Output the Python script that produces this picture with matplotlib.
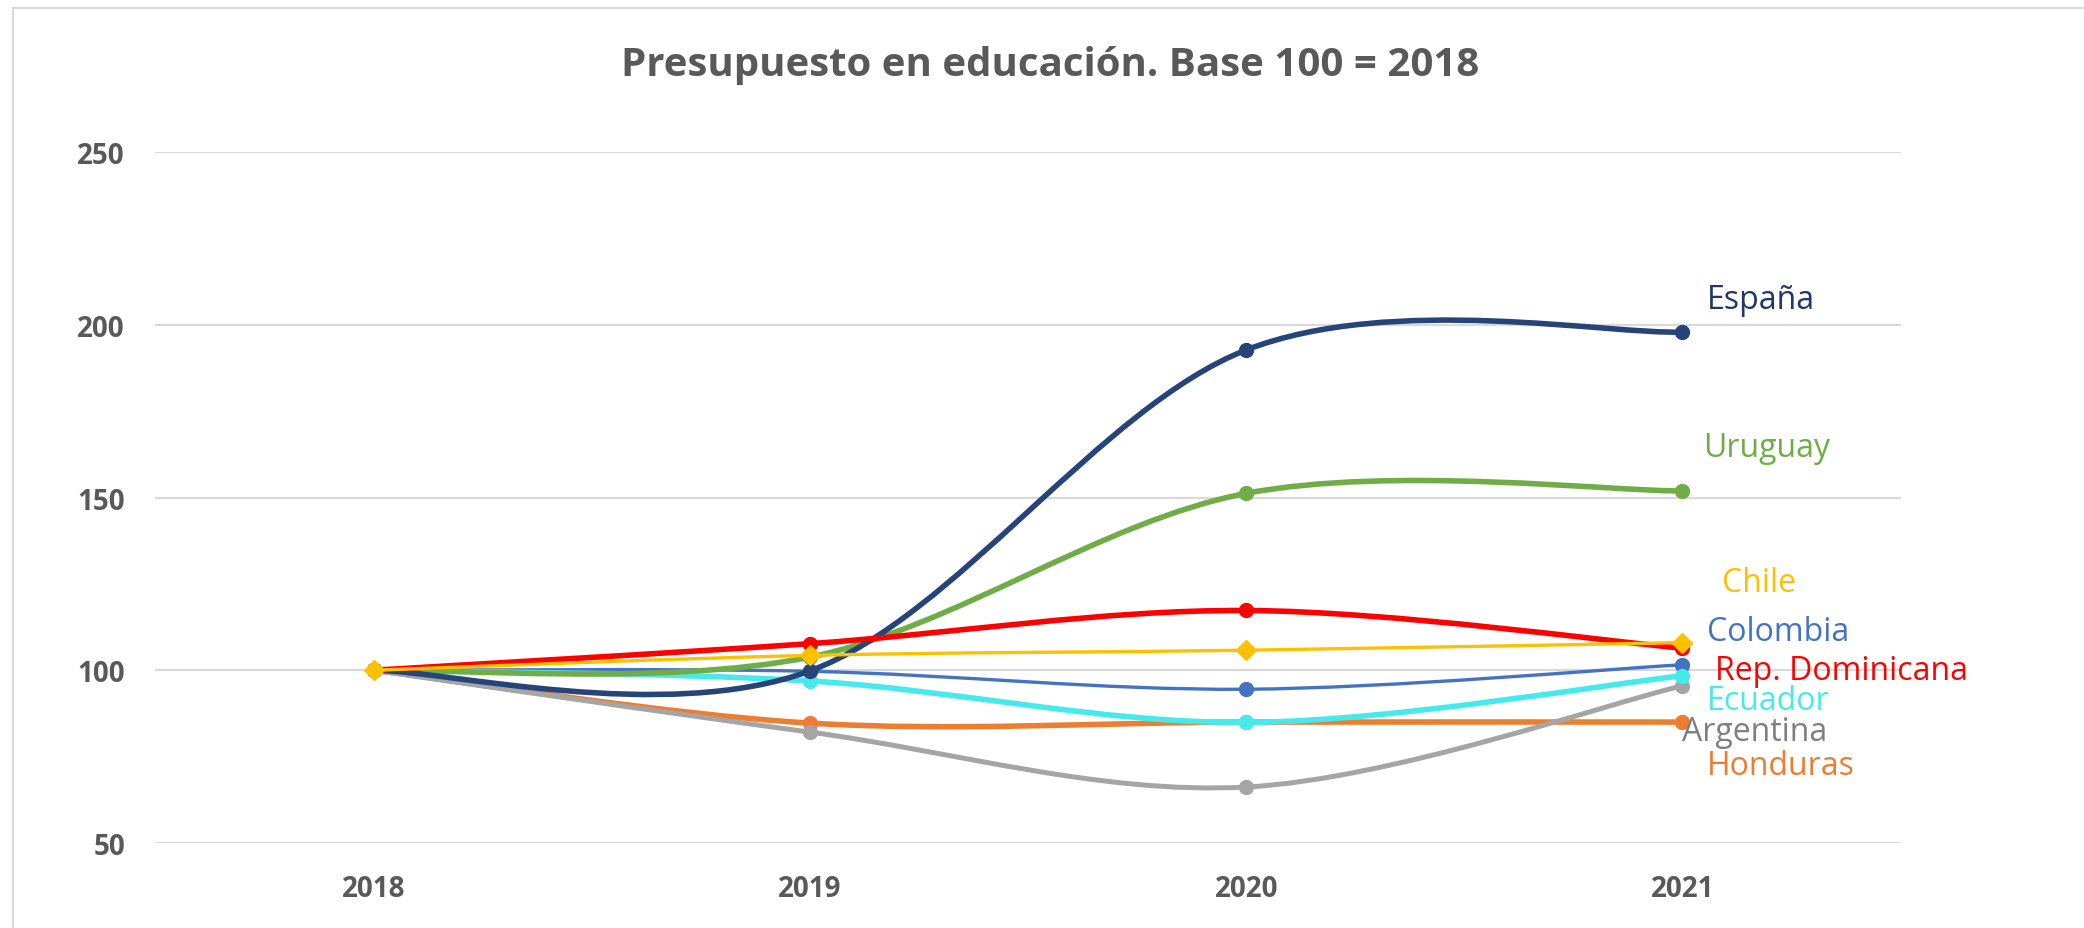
import matplotlib.pyplot as plt
from matplotlib.path import Path
from matplotlib.patches import PathPatch
from matplotlib.lines import Line2D

plt.rcParams['font.family'] = ['Open Sans', 'DejaVu Sans']

years = ["2018", "2019", "2020", "2021"]

# drawn bottom to top
countries = ["Honduras", "Argentina", "Colombia", "Ecuador",
             "Uruguay", "España", "Rep. Dominicana", "Chile"]

honduras = [100, 84.7, 85.0, 85.0]
argentina = [100, 82.1, 66.2, 95.5]
colombia = [100, 99.7, 94.5, 101.6]
ecuador = [100, 96.9, 84.9, 98.4]
uruguay = [100, 103.8, 151.2, 151.9]
espana = [100, 99.8, 192.7, 197.9]
rep_dominicana = [100, 107.7, 117.3, 106.4]
chile = [100, 104.3, 105.8, 108.0]

series = [honduras, argentina, colombia, ecuador,
          uruguay, espana, rep_dominicana, chile]

line_colors = ["#ED7D31", "#A5A5A5", "#4472C4", "#47EAEA",
               "#70AD47", "#264478", "#FF0000", "#FFC000"]
text_colors = ["#ED7D31", "#7F7F7F", "#4472C4", "#47EAEA",
               "#70AD47", "#1F3864", "#FF0000", "#FFC000"]
widths = [4.0, 3.6, 2.4, 4.0, 4.0, 4.0, 4.0, 2.4]
markers = ["o", "o", "o", "o", "o", "o", "o", "D"]

# label anchors (x in category units, y in data units)
label_pos = [(3.057, 72.3), (3.0, 82.3), (3.057, 111.2), (3.057, 91.2),
             (3.048, 164.6), (3.057, 207.4), (3.075, 100.0), (3.091, 125.4)]

fig = plt.figure(figsize=(20.84, 9.29), dpi=100)
ax = fig.add_axes([0.0746, 0.0915, 0.8374, 0.7438])


def smooth_path(xs, ys):
    # Excel-style smoothed line: cubic Bezier through the points
    pts = list(zip(xs, ys))
    n = len(pts)
    verts = [pts[0]]
    codes = [Path.MOVETO]
    for i in range(n - 1):
        p0 = pts[max(i - 1, 0)]
        p1 = pts[i]
        p2 = pts[i + 1]
        p3 = pts[min(i + 2, n - 1)]
        c1 = (p1[0] + (p2[0] - p0[0]) / 6, p1[1] + (p2[1] - p0[1]) / 6)
        c2 = (p2[0] - (p3[0] - p1[0]) / 6, p2[1] - (p3[1] - p1[1]) / 6)
        verts += [c1, c2, p2]
        codes += [Path.CURVE4] * 3
    return Path(verts, codes)


xs = list(range(len(years)))
for k, (name, vals) in enumerate(zip(countries, series)):
    patch = PathPatch(smooth_path(xs, vals), facecolor="none",
                      edgecolor=line_colors[k], lw=widths[k],
                      capstyle="round", joinstyle="round", zorder=2 + k)
    ax.add_patch(patch)
    ms = 10.5 if markers[k] == "D" else 10
    ax.plot(xs, vals, linestyle="none", marker=markers[k], ms=ms,
            color=line_colors[k], zorder=2.5 + k)
    lx, ly = label_pos[k]
    ax.text(lx, ly, name, color=text_colors[k], fontsize=23,
            ha="left", va="center", zorder=20)

ax.set_xlim(-0.5, 3.5)
ax.set_ylim(50, 250)
ax.set_yticks([50, 100, 150, 200, 250])
ax.set_xticks(xs)
ax.set_xticklabels(years)

ax.grid(axis="y", color="#D9D9D9", lw=1.6)
ax.set_axisbelow(True)
for s in ["top", "right", "left", "bottom"]:
    ax.spines[s].set_visible(False)
ax.tick_params(length=0, labelsize=20, labelcolor="#595959", pad=22)
for lab in ax.get_xticklabels() + ax.get_yticklabels():
    lab.set_fontweight("bold")
ax.tick_params(axis="x", pad=22)

fig.text(0.504, 0.930, "Presupuesto en educación. Base 100 = 2018",
         ha="center", va="center", fontsize=29, fontweight="bold",
         color="#595959")

# chart border (left and top visible)
fig.add_artist(Line2D([0.006, 0.006], [0, 0.99], color="#D9D9D9", lw=1.5))
fig.add_artist(Line2D([0.006, 1.0], [0.99, 0.99], color="#D9D9D9", lw=1.5))

fig.savefig("out.png", dpi=100)
